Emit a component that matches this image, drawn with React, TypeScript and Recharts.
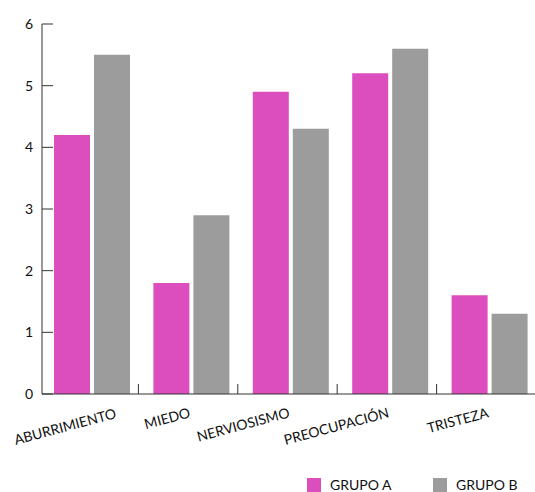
import React from 'react';
import { BarChart, Bar, XAxis, YAxis } from 'recharts';

const categories = ['ABURRIMIENTO', 'MIEDO', 'NERVIOSISMO', 'PREOCUPACIÓN', 'TRISTEZA'];
const grupoA = [4.2, 1.8, 4.9, 5.2, 1.6];
const grupoB = [5.5, 2.9, 4.3, 5.6, 1.3];
const yTicks = [0, 1, 2, 3, 4, 5, 6];

const PINK = '#dc4dbe';
const GRAY = '#9c9c9c';
const AXIS = '#333333';
const FONT = 'Lato, "Noto Sans", sans-serif';

const data = categories.map((c, i) => ({ category: c, a: grupoA[i], b: grupoB[i] }));

// approx band width, used to put the x tick marks between categories
const BAND = 99.4;

function YTick(props: any) {
  const { x, y, payload } = props;
  return (
    <g>
      <line x1={x} y1={y} x2={x + 11} y2={y} stroke={AXIS} strokeWidth={1} />
      <text x={x - 9} y={y + 5} textAnchor="end" fontSize={14} fill="#111" fontFamily={FONT}>
        {payload.value}
      </text>
    </g>
  );
}

function XTick(props: any) {
  const { x, y, payload, index } = props;
  const first = index === 0;
  const tx = x - BAND / 2 - 3;
  return (
    <g>
      {!first && <line x1={tx} y1={y} x2={tx} y2={y - 10} stroke={AXIS} strokeWidth={1} />}
      <text
        transform={first ? `translate(${x - 76}, ${y + 51}) rotate(-15)` : `translate(${x}, ${y + 23}) rotate(-15)`}
        textAnchor={first ? 'start' : 'end'}
        fontSize={14}
        fill="#111"
        fontFamily={FONT}
      >
        {payload.value}
      </text>
    </g>
  );
}

export default function App() {
  return (
    <div style={{ position: 'absolute', left: 0, top: 0, width: 535, height: 492, background: '#fff', overflow: 'hidden' }}>
      <BarChart
        width={535}
        height={492}
        data={data}
        margin={{ top: 24, right: -4, bottom: 58, left: 0 }}
        barSize={36}
        barGap={4}
      >
        <XAxis
          dataKey="category"
          axisLine={{ stroke: AXIS }}
          tickLine={false}
          tickSize={0}
          tickMargin={0}
          interval={0}
          tick={<XTick />}
          height={40}
        />
        <YAxis
          domain={[0, 6]}
          ticks={yTicks}
          axisLine={{ stroke: AXIS }}
          tickLine={false}
          tickSize={0}
          tickMargin={0}
          tick={<YTick />}
          width={42}
        />
        <Bar dataKey="a" name="GRUPO A" fill={PINK} isAnimationActive={false} />
        <Bar dataKey="b" name="GRUPO B" fill={GRAY} isAnimationActive={false} />
      </BarChart>
      <div style={{ position: 'absolute', left: 307, top: 476, display: 'flex', alignItems: 'center', fontFamily: FONT, fontSize: 14, color: '#111' }}>
        <span style={{ width: 14, height: 14, background: PINK, display: 'inline-block' }} />
        <span style={{ marginLeft: 9, width: 103 }}>GRUPO A</span>
        <span style={{ width: 14, height: 14, background: GRAY, display: 'inline-block' }} />
        <span style={{ marginLeft: 9 }}>GRUPO B</span>
      </div>
    </div>
  );
}
